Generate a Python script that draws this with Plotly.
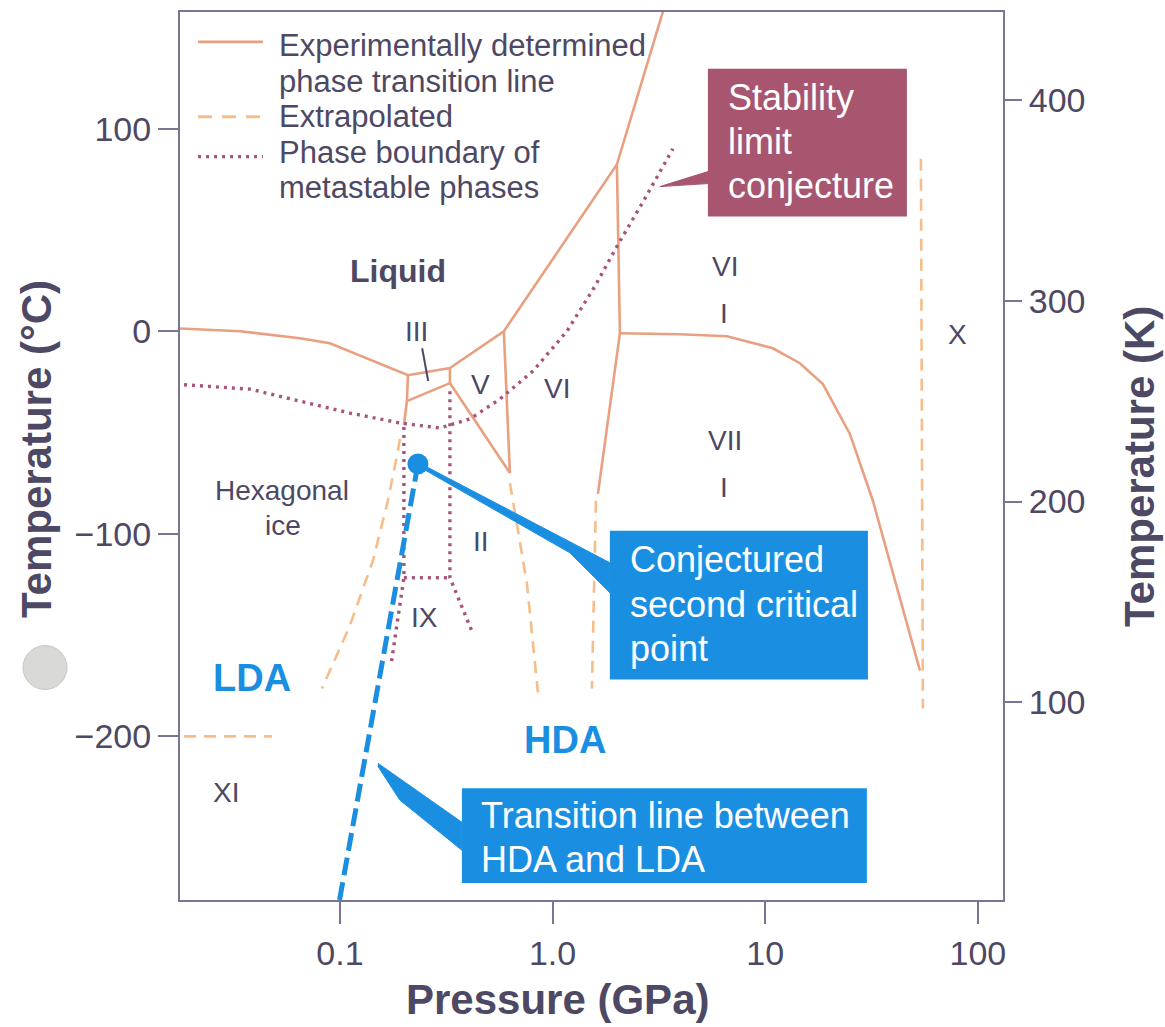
import numpy as np
import plotly.graph_objects as go

# ---------------- phase boundaries (pressure in GPa, temperature in °C) ----------------
# liquid / solid boundary: Ih -> III -> V -> VI -> VII melting curves
melt_p = [0.012, 0.0339, 0.0648, 0.0897, 0.209, 0.329, 0.590, 2.006, 3.41]
melt_t = [2.2, 0.0, -3.45, -5.9, -21.7, -18.2, 0.0, 82.3, 162.6]

# Ih/III then Ih/II
ih_iii_p = [0.209, 0.2065, 0.200]
ih_iii_t = [-21.7, -34.5, -46.3]
# II/III
ii_iii_p = [0.2065, 0.329]
ii_iii_t = [-34.5, -25.6]
# III/V
iii_v_p = [0.329, 0.329]
iii_v_t = [-18.2, -25.6]
# II/V
ii_v_p = [0.329, 0.630]
ii_v_t = [-25.6, -70.0]
# V/VI
v_vi_p = [0.590, 0.630]
v_vi_t = [0.0, -70.0]
# VI/VII and VI/VIII
vi_vii_p = [2.006, 2.073, 2.073, 1.634]
vi_vii_t = [82.3, 14.8, -1.0, -80.3]
# VII/VIII
vii_viii_p = [2.073, 3.97, 6.60, 10.86, 14.55, 18.67, 25.00, 32.08, 53.37]
vii_viii_t = [-1.0, -1.5, -2.5, -8.4, -15.8, -26.1, -50.7, -83.7, -167.5]

# extrapolated boundaries
x_p = [53.95, 55.13]
x_t = [85.2, -186.2]
ih_ii_ext_p = [0.1915, 0.1874, 0.1681, 0.1429, 0.1114, 0.0823]
ih_ii_ext_t = [-53.2, -59.1, -83.7, -113.3, -145.3, -176.4]
ii_vi_ext_p = [0.630, 0.651, 0.7575, 0.853]
ii_vi_ext_t = [-74.9, -83.7, -124.6, -178.3]
vi_viii_ext_p = [1.599, 1.531]
vi_viii_ext_t = [-83.7, -176.4]
xi_ext_p = [0.012, 0.0479]
xi_ext_t = [-200.0, -200.0]

# metastable phase boundaries
meta_curve_p = [0.012, 0.0378, 0.0648, 0.1114, 0.1915, 0.2953, 0.4087, 0.5652,
                0.8082, 1.168, 1.582, 2.007, 2.717, 3.680]
meta_curve_t = [-25.1, -28.6, -34.5, -40.4, -45.3, -47.8, -43.3, -33.5,
                -19.7, 0.0, 22.2, 41.9, 65.5, 90.1]
meta_ix_right_p = [0.329, 0.329, 0.422]
meta_ix_right_t = [-29.6, -121.7, -149.3]
meta_ix_top_p = [0.1999, 0.329]
meta_ix_top_t = [-121.7, -121.7]
meta_ix_left_p = [0.1999, 0.1999, 0.1737]
meta_ix_left_t = [-47.3, -121.7, -165.0]

# HDA / LDA transition line ending at the conjectured second critical point
crit_p, crit_t = 0.2327, -65.5
hda_lda_p = [crit_p, 0.0958]
hda_lda_t = [crit_t, -290.6]

# region labels: (text, pressure, temperature)
phase_labels = [
    ("III", 0.2301, 0.0), ("V", 0.4603, -26.1), ("VI", 1.048, -28.1),
    ("VI", 6.465, 32.0), ("I", 6.395, 8.9), ("VII", 6.465, -53.7), ("I", 6.395, -77.3),
    ("X", 80.5, -1.5), ("Hexagonal", 0.0534, -78.8), ("ice", 0.0540, -96.1),
    ("II", 0.4603, -103.9), ("IX", 0.2508, -141.4), ("XI", 0.0292, -227.6),
]
liquid_label = ("Liquid", 0.1874, 29.6)
amorph_labels = [("LDA", 0.0386, -171.4), ("HDA", 1.143, -202.0)]
iii_marker_p = [0.2436, 0.2601]
iii_marker_t = [-8.4, -24.6]

# call-out boxes (pressure span, temperature span) and their pointers
crit_box_p, crit_box_t = (1.860, 30.4), (-98.5, -172.0)
crit_ptr_p = [0.2510, 1.860, 1.860, 1.206, 0.2510]
crit_ptr_t = [-66.5, -114.3, -129.1, -109.4, -68.5]
crit_text = [("Conjectured", -112.8), ("second critical", -134.9), ("point", -156.6)]
crit_text_p = 2.26

trans_box_p, trans_box_t = (0.3746, 30.06), (-225.6, -272.4)
trans_ptr_p = [0.1509, 0.3746, 0.3746, 0.1915, 0.1509]
trans_ptr_t = [-213.3, -242.4, -256.2, -231.5, -214.8]
trans_text = [("Transition line between", -238.9), ("HDA and LDA", -260.6)]
trans_text_p = 0.4532

stab_box_p, stab_box_t = (5.375, 46.36), (129.6, 56.7)
stab_ptr_p = [3.197, 5.375, 5.375, 3.197]
stab_ptr_t = [71.4, 78.8, 72.9, 71.4]
stab_text = [("Stability", 115.3), ("limit", 93.6), ("conjecture", 72.0)]
stab_text_p = 6.53

# axis ticks
x_tick_vals = [0.1, 1, 10, 100]
x_tick_text = ["0.1", "1.0", "10", "100"]
c_tick_vals = [100, 0, -100, -200]
c_tick_text = ["100", "0", "\u2212100", "\u2212200"]
k_tick_vals = [100, 200, 300, 400]
k_tick_text = ["100", "200", "300", "400"]

# ---------------- styles ----------------
FONT = "Liberation Sans, Arial, Helvetica, sans-serif"
TEXT_C = "#4d4863"
AXIS_C = "#7a7596"
SOLID = dict(color="#e8a080", width=2.6)
EXTRAP = dict(color="#f6bd8a", width=2.6, dash="12px,8px")
META = dict(color="#a8527c", width=3.4, dash="3px,5px")
BLUE = "#1a8fe2"
MAROON = "#a8556f"

fig = go.Figure()


def add_line(p, t, style):
    fig.add_trace(go.Scatter(x=p, y=t, mode="lines", line=style,
                             hoverinfo="skip", showlegend=False))


for p, t in [(melt_p, melt_t), (ih_iii_p, ih_iii_t), (ii_iii_p, ii_iii_t),
             (iii_v_p, iii_v_t), (ii_v_p, ii_v_t), (v_vi_p, v_vi_t),
             (vi_vii_p, vi_vii_t), (vii_viii_p, vii_viii_t)]:
    add_line(p, t, SOLID)

for p, t in [(x_p, x_t), (ih_ii_ext_p, ih_ii_ext_t), (ii_vi_ext_p, ii_vi_ext_t),
             (vi_viii_ext_p, vi_viii_ext_t), (xi_ext_p, xi_ext_t)]:
    add_line(p, t, EXTRAP)

for p, t in [(meta_curve_p, meta_curve_t), (meta_ix_right_p, meta_ix_right_t),
             (meta_ix_top_p, meta_ix_top_t), (meta_ix_left_p, meta_ix_left_t)]:
    add_line(p, t, META)

# short leader for the ice III label
add_line(iii_marker_p, iii_marker_t, dict(color=TEXT_C, width=2))

# HDA/LDA transition line and critical point
add_line(hda_lda_p, hda_lda_t, dict(color=BLUE, width=5, dash="18px,7px"))

# call-out pointers
for p, t, c in [(crit_ptr_p, crit_ptr_t, BLUE), (trans_ptr_p, trans_ptr_t, BLUE),
                (stab_ptr_p, stab_ptr_t, MAROON)]:
    fig.add_trace(go.Scatter(x=p, y=t, mode="lines", fill="toself", fillcolor=c,
                             line=dict(color=c, width=1), hoverinfo="skip",
                             showlegend=False))

fig.add_trace(go.Scatter(x=[crit_p], y=[crit_t], mode="markers",
                         marker=dict(color=BLUE, size=21), hoverinfo="skip",
                         showlegend=False))

# Kelvin scale on the right
fig.add_trace(go.Scatter(x=[None], y=[None], yaxis="y2", showlegend=False,
                         hoverinfo="skip"))

shapes = []
annotations = []

# call-out boxes and text
for (p0, p1), (t0, t1), col in [(crit_box_p, crit_box_t, BLUE),
                                (trans_box_p, trans_box_t, BLUE),
                                (stab_box_p, stab_box_t, MAROON)]:
    shapes.append(dict(type="rect", xref="x", yref="y", x0=p0, x1=p1, y0=t0, y1=t1,
                       fillcolor=col, line=dict(width=0), layer="above"))

for lines, p in [(crit_text, crit_text_p), (trans_text, trans_text_p),
                 (stab_text, stab_text_p)]:
    for txt, t in lines:
        annotations.append(dict(x=np.log10(p), y=t, xref="x", yref="y", text=txt,
                                showarrow=False, xanchor="left", yanchor="middle",
                                font=dict(family=FONT, size=36, color="white")))

# phase labels
for txt, p, t in phase_labels:
    annotations.append(dict(x=np.log10(p), y=t, xref="x", yref="y", text=txt,
                            showarrow=False, xanchor="center", yanchor="middle",
                            font=dict(family=FONT, size=28, color=TEXT_C)))
annotations.append(dict(x=np.log10(liquid_label[1]), y=liquid_label[2], xref="x", yref="y",
                        text=liquid_label[0], showarrow=False,
                        xanchor="center", yanchor="middle",
                        font=dict(family=FONT, size=32, color=TEXT_C, weight="bold")))
for txt, p, t in amorph_labels:
    annotations.append(dict(x=np.log10(p), y=t, xref="x", yref="y", text=txt,
                            showarrow=False, xanchor="center", yanchor="middle",
                            font=dict(family=FONT, size=38, color=BLUE, weight="bold")))

# ---------------- legend drawn in the upper-left corner ----------------
PLOT_L, PLOT_R, PLOT_T, PLOT_B = 180, 1003, 10, 900


def paper_x(px):
    return (px - PLOT_L) / (PLOT_R - PLOT_L)


def paper_y(py):
    return (PLOT_B - py) / (PLOT_B - PLOT_T)


legend_rows = [
    (40, dict(color=SOLID["color"], width=2.8)),
    (115, dict(color=EXTRAP["color"], width=2.8, dash="14px,10px")),
    (155, dict(color=META["color"], width=3.4, dash="3px,5px")),
]
for py, ln in legend_rows:
    shapes.append(dict(type="line", xref="paper", yref="paper",
                       x0=paper_x(198), x1=paper_x(263), y0=paper_y(py), y1=paper_y(py),
                       line=ln))
legend_text = [("Experimentally determined", 44), ("phase transition line", 80),
               ("Extrapolated", 115), ("Phase boundary of", 151),
               ("metastable phases", 186)]
for txt, py in legend_text:
    annotations.append(dict(x=paper_x(277), y=paper_y(py), xref="paper", yref="paper",
                            text=txt, showarrow=False, xanchor="left", yanchor="middle",
                            font=dict(family=FONT, size=31, color=TEXT_C)))

# axis titles
annotations += [
    dict(x=paper_x(557), y=paper_y(1000), xref="paper", yref="paper",
         text="Pressure (GPa)", showarrow=False, xanchor="center", yanchor="middle",
         font=dict(family=FONT, size=42, color=TEXT_C, weight="bold")),
    dict(x=paper_x(36), y=paper_y(448), xref="paper", yref="paper",
         text="Temperature (\u00b0C)", showarrow=False, textangle=-90,
         xanchor="center", yanchor="middle",
         font=dict(family=FONT, size=42, color=TEXT_C, weight="bold")),
    dict(x=paper_x(1140), y=paper_y(466), xref="paper", yref="paper",
         text="Temperature (K)", showarrow=False, textangle=-90,
         xanchor="center", yanchor="middle",
         font=dict(family=FONT, size=42, color=TEXT_C, weight="bold")),
]

# punched hole at the left edge of the page
shapes.append(dict(type="circle", xref="paper", yref="paper",
                   x0=paper_x(23), x1=paper_x(67), y0=paper_y(689), y1=paper_y(645),
                   fillcolor="#d9d9d5", line=dict(color="#c6c6c2", width=1)))

axis_common = dict(showgrid=False, zeroline=False, showline=True, linecolor=AXIS_C,
                   linewidth=2, ticks="outside", tickcolor=AXIS_C, tickwidth=2,
                   tickfont=dict(family=FONT, size=34, color=TEXT_C))

fig.update_layout(
    width=1165, height=1027,
    margin=dict(l=PLOT_L, r=1165 - PLOT_R, t=PLOT_T, b=1027 - PLOT_B),
    paper_bgcolor="white", plot_bgcolor="white",
    xaxis=dict(type="log", range=[-1.752, 2.118], tickvals=x_tick_vals,
               ticktext=x_tick_text, ticklen=22, mirror=True, **axis_common),
    yaxis=dict(range=[-280.8, 157.6], tickvals=c_tick_vals, ticktext=c_tick_text,
               ticklen=20, mirror=True, **axis_common),
    yaxis2=dict(overlaying="y", side="right", range=[1.65, 443.7],
                tickvals=k_tick_vals, ticktext=k_tick_text, ticklen=18,
                **{**axis_common, "showline": False}),
    shapes=shapes,
    annotations=annotations,
    showlegend=False,
)

fig.write_html("out.html")
